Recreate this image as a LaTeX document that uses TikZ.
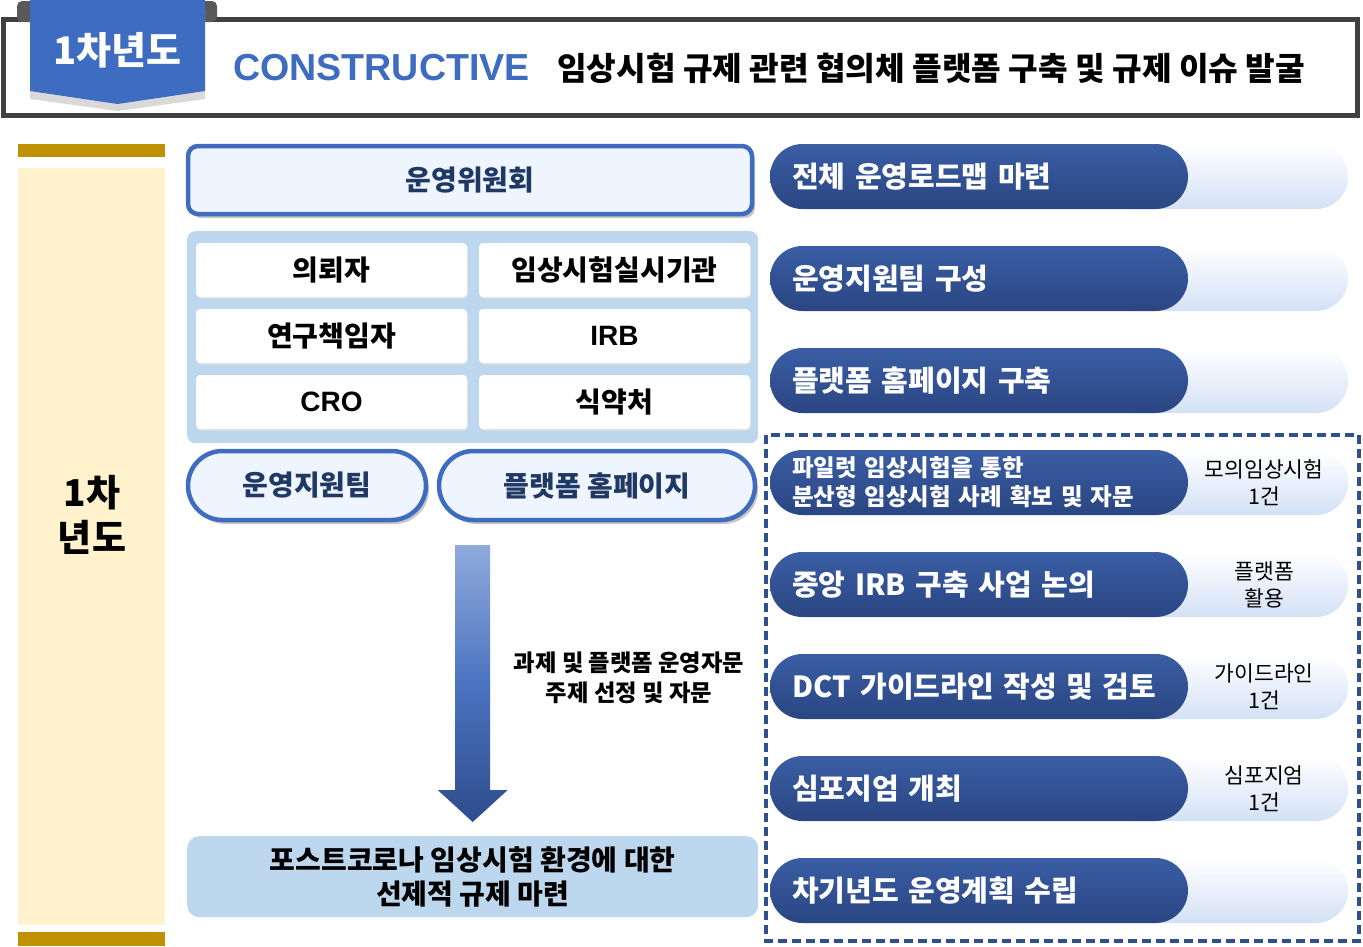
\documentclass[tikz,border=0pt]{standalone}
\usepackage{fontspec}
\setmainfont{Noto Sans CJK KR}
\newfontfamily\latinbold{Liberation Sans}
\usepackage{tikz}
\usetikzlibrary{positioning,shadows,backgrounds}
\definecolor{frameGray}{HTML}{404040}
\definecolor{tabGray}{HTML}{595959}
\definecolor{bannerBlue}{HTML}{3D6CC0}
\definecolor{cream}{HTML}{FFF2CC}
\definecolor{gold}{HTML}{BF9000}
\definecolor{hubBlue}{HTML}{3F6CBE}
\definecolor{hubFill}{HTML}{EEF5FF}
\definecolor{navy}{HTML}{203864}
\definecolor{panelBlue}{HTML}{BDD7EE}
\definecolor{pillTop}{HTML}{3A5DA4}
\definecolor{pillBot}{HTML}{2A4682}
\definecolor{backBlue}{HTML}{D3E1F6}
\definecolor{dashBlue}{HTML}{2F4F8F}
\definecolor{arrTop}{HTML}{8FAADC}
\definecolor{arrMid}{HTML}{4A74C0}
\definecolor{arrBot}{HTML}{2E4C8C}

\begin{document}
\begin{tikzpicture}[x=1pt, y=-1pt, font=\bfseries, node distance=37pt and 12pt,
  cell/.style={fill=white, rounded corners=4pt, minimum width=271pt, minimum height=54pt, inner sep=0pt, outer sep=0pt, font=\fontsize{28}{32}\selectfont\bfseries, drop shadow={shadow xshift=1pt, shadow yshift=-1.5pt, opacity=1, fill=black!12}},
  hub/.style={draw=hubBlue, line width=4.5pt, fill=hubFill, text=navy, inner sep=0pt, outer sep=0pt, font=\fontsize{28}{32}\selectfont\bfseries, drop shadow={shadow xshift=3pt, shadow yshift=-4pt, opacity=1, fill=black!22}},
  tag/.style={top color=pillTop, bottom color=pillBot, text=white, rounded corners=32.5pt, minimum width=418pt, minimum height=65pt, text width=374pt, inner xsep=22pt, inner ysep=0pt, outer sep=0pt, align=left, font=\fontsize{29}{33}\selectfont\bfseries},
  back/.style={top color=white, bottom color=backBlue, rounded corners=32.5pt, minimum width=248pt, minimum height=65pt, inner sep=0pt},
  note/.style={align=center, font=\fontsize{21.5}{27}\selectfont\mdseries},
  blockarrow/.style={top color=arrTop, bottom color=arrBot, middle color=arrMid}]
\useasboundingbox (0,0) rectangle (1363,946);

% header
\draw[frameGray, line width=5pt, fill=white] (3.5,19.5) rectangle (1357,115);
\fill[tabGray, rounded corners=5pt] (17,22) -- (17,1) -- (217,1) -- (217,22) -- cycle;
\fill[black!15] (30,10) -- (205,10) -- (205,99) -- (117.5,111) -- (30,99) -- cycle;
\fill[bannerBlue] (30,0) -- (205,0) -- (205,91) -- (117.5,104) -- (30,91) -- cycle;
\node[text=white, font=\fontsize{38}{42}\selectfont\bfseries] (badge) at (117.5,50) {1차년도};
\node[anchor=west, inner sep=0pt, text=bannerBlue, font=\fontsize{37.6}{40}\selectfont\latinbold\bfseries] (kw) at (233,68) {CONSTRUCTIVE};
\node[anchor=west, inner sep=0pt, font=\fontsize{32.2}{36}\selectfont\bfseries] (ttl) at (557,68) {임상시험 규제 관련 협의체 플랫폼 구축 및 규제 이슈 발굴};

% year column
\fill[gold] (18,144) rectangle (165,157);
\fill[cream] (18,168) rectangle (165,925);
\fill[gold] (18,932) rectangle (165,946);
\node[align=center, font=\fontsize{37}{45}\selectfont\bfseries] (yr) at (92,515) {1차\\년도};

% council, members, teams
\node[hub, anchor=north west, minimum width=564pt, minimum height=68pt, rounded corners=10pt] (com) at (188,146) {운영위원회};
\node[fill=panelBlue, rounded corners=8pt, minimum width=571pt, minimum height=212pt, inner sep=0pt, anchor=north west] (pan) at (187,231) {};
\node[cell, anchor=north west] (c1) at (196,243) {의뢰자};
\node[cell, right=of c1] (c2) {임상시험실시기관};
\node[cell, below=12pt of c1] (c3) {연구책임자};
\node[cell, right=of c3] (c4) {\latinbold IRB};
\node[cell, below=12pt of c3] (c5) {\latinbold CRO};
\node[cell, right=of c5] (c6) {식약처};
\node[hub, anchor=north west, minimum width=238pt, minimum height=69pt, rounded corners=34.5pt] (sup) at (188,451) {운영지원팀};
\node[hub, right=13pt of sup, minimum width=316pt, minimum height=69pt, rounded corners=34.5pt] (web) {플랫폼 홈페이지};

% outcome and arrow
\node[fill=panelBlue, rounded corners=12pt, minimum width=571pt, minimum height=81pt, anchor=north west, align=center, font=\fontsize{28}{34}\selectfont\bfseries] (goal) at (187,836) {포스트코로나 임상시험 환경에 대한\\선제적 규제 마련};
\coordinate (atop) at (goal.north |- 0,545);
\coordinate (atip) at ([yshift=14pt]goal.north);
\shade[blockarrow] ([xshift=-17.5pt]atop) -- ([xshift=17.5pt]atop) -- ([xshift=17.5pt,yshift=32pt]atip) -- ([xshift=35pt,yshift=32pt]atip) -- (atip) -- ([xshift=-35pt,yshift=32pt]atip) -- ([xshift=-17.5pt,yshift=32pt]atip) -- cycle;
\node[align=center, font=\fontsize{23.3}{30}\selectfont\bfseries] (lbl) at (629,678) {과제 및 플랫폼 운영자문\\주제 선정 및 자문};

% activities
\node[tag, anchor=north west] (r1) at (770,144) {전체 운영로드맵 마련};
\node[tag, below=of r1] (r2) {운영지원팀 구성};
\node[tag, below=of r2] (r3) {플랫폼 홈페이지 구축};
\node[tag, below=of r3, font=\fontsize{23.5}{29}\selectfont\bfseries] (r4) {파일럿 임상시험을 통한\\분산형 임상시험 사례 확보 및 자문};
\node[tag, below=of r4] (r5) {중앙 IRB 구축 사업 논의};
\node[tag, below=of r5] (r6) {DCT 가이드라인 작성 및 검토};
\node[tag, below=of r6] (r7) {심포지엄 개최};
\node[tag, below=of r7] (r8) {차기년도 운영계획 수립};
\begin{scope}[on background layer]
\foreach \i in {1,...,8}
  \node[back, anchor=west] (v\i) at ([xshift=-88pt]r\i.east) {};
\end{scope}
\node[note] (n4) at ([xshift=40pt]v4.center) {모의임상시험\\1건};
\node[note] (n5) at ([xshift=40pt]v5.center) {플랫폼\\활용};
\node[note] (n6) at ([xshift=40pt]v6.center) {가이드라인\\1건};
\node[note] (n7) at ([xshift=40pt]v7.center) {심포지엄\\1건};
\draw[dashBlue, line width=3.5pt, dash pattern=on 9pt off 5pt] (766,435) rectangle (1359,941);
\end{tikzpicture}
\end{document}
